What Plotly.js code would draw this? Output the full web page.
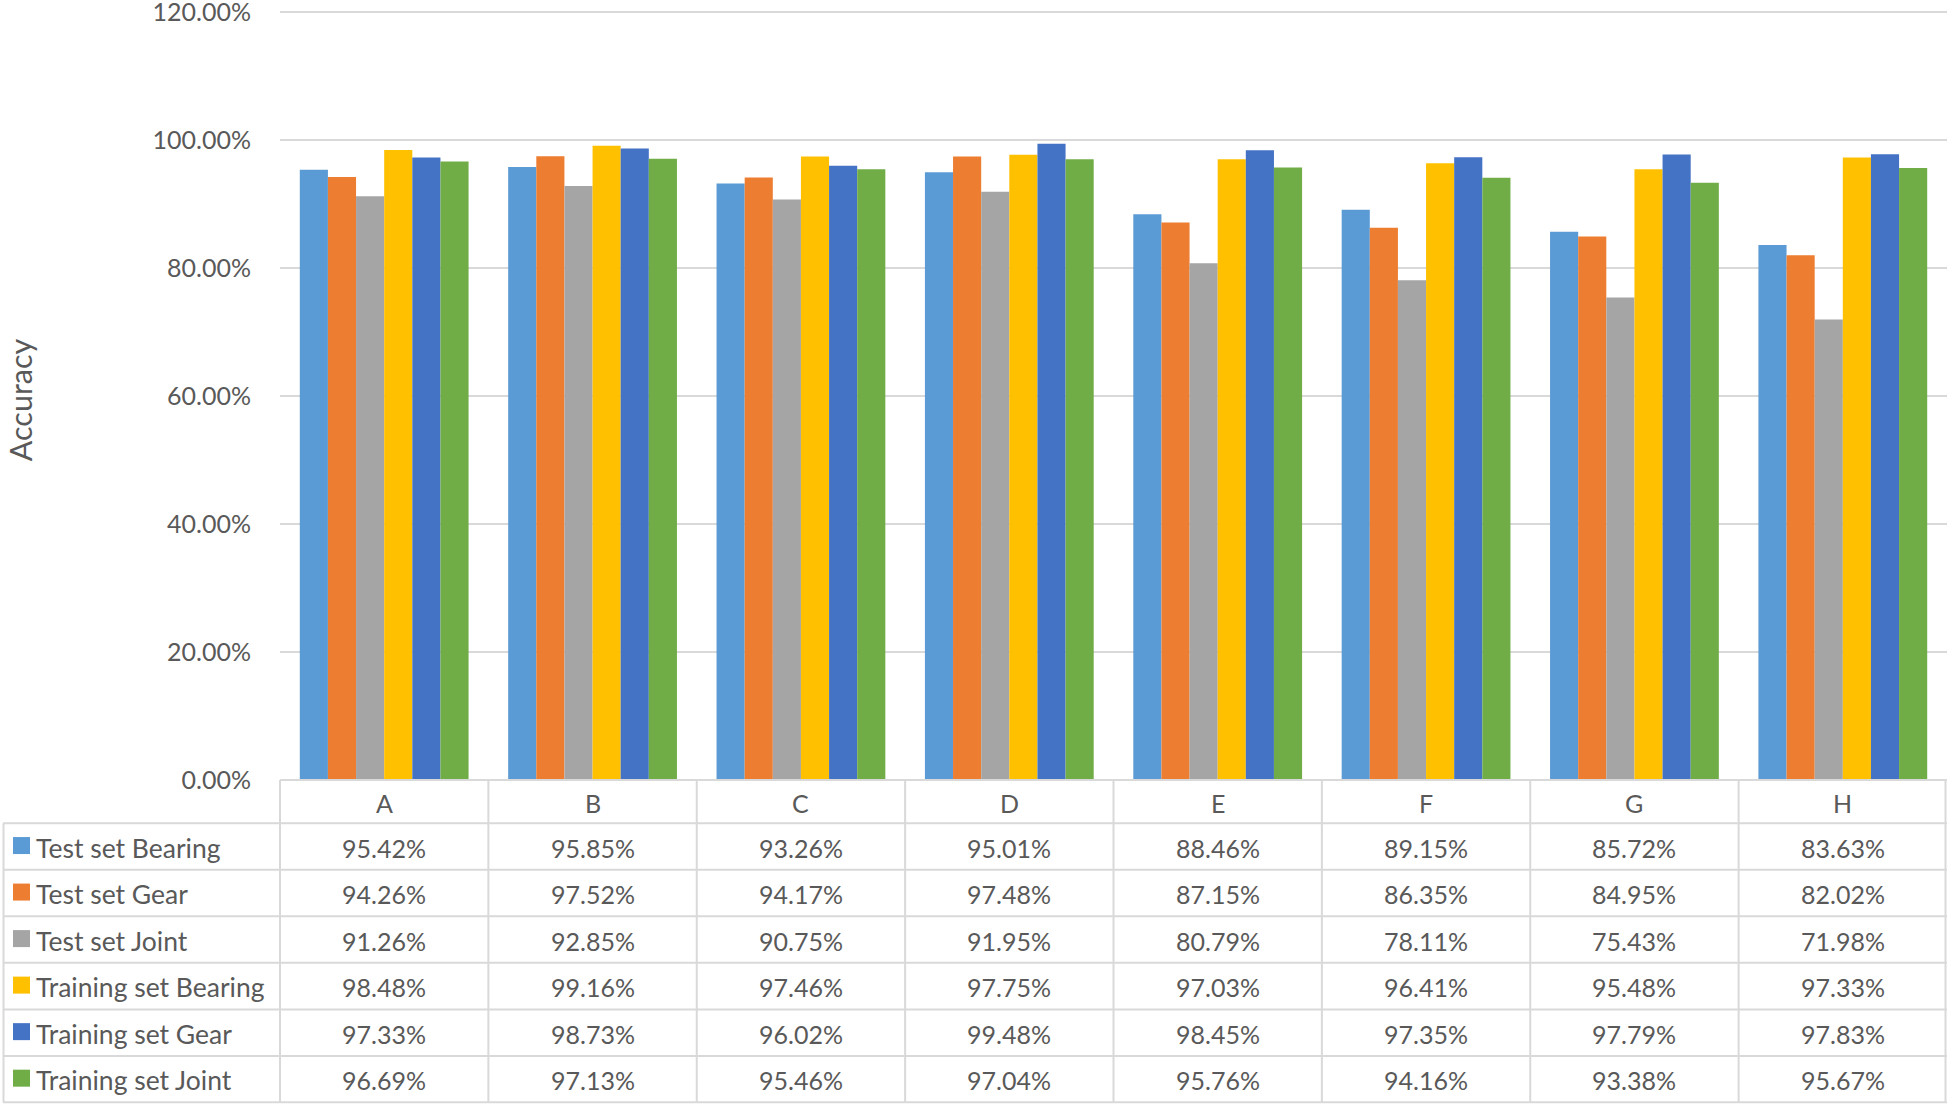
<!DOCTYPE html>
<html>
<head>
<meta charset="utf-8">
<script src="https://cdn.plot.ly/plotly-3.0.1.min.js"></script>
<style>html,body{margin:0;padding:0;background:#fff;}#chart{width:1947px;height:1104px;}</style>
</head>
<body>
<div id="chart"></div>
<script>
// ---- Data ----
var categories = ["A", "B", "C", "D", "E", "F", "G", "H"];
var seriesNames = ["Test set Bearing", "Test set Gear", "Test set Joint", "Training set Bearing", "Training set Gear", "Training set Joint"];
var testBearing = [95.42, 95.85, 93.26, 95.01, 88.46, 89.15, 85.72, 83.63];
var testGear = [94.26, 97.52, 94.17, 97.48, 87.15, 86.35, 84.95, 82.02];
var testJoint = [91.26, 92.85, 90.75, 91.95, 80.79, 78.11, 75.43, 71.98];
var trainBearing = [98.48, 99.16, 97.46, 97.75, 97.03, 96.41, 95.48, 97.33];
var trainGear = [97.33, 98.73, 96.02, 99.48, 98.45, 97.35, 97.79, 97.83];
var trainJoint = [96.69, 97.13, 95.46, 97.04, 95.76, 94.16, 93.38, 95.67];
var yTickVals = [0, 20, 40, 60, 80, 100, 120];
var yTickText = ["0.00%", "20.00%", "40.00%", "60.00%", "80.00%", "100.00%", "120.00%"];
var yTitle = "Accuracy";

// ---- Styles ----
var seriesValues = [testBearing, testGear, testJoint, trainBearing, trainGear, trainJoint];
var colors = ["#5B9BD5", "#ED7D31", "#A5A5A5", "#FFC000", "#4472C4", "#70AD47"];
var FONT = "Lato, 'Open Sans', sans-serif";
var TXT = "#595959";
var LINE = "#d9d9d9";

var W = 1947, H = 1104;
var yMax = 121;
var top120 = 12;                      // pixel row of the 120% gridline
var plotL = 280, plotR = 1947, plotB = 780;
var pxPerUnit = (plotB - top120) / 120;
var plotT = plotB - yMax * pxPerUnit;
var headerBottom = 823.3, rowH = 46.55;

function py(p) { return (plotB - p) / (plotB - plotT); }   // pixel y -> paper y
function px(p) { return (p - plotL) / (plotR - plotL); }   // pixel x -> paper x

var traces = seriesNames.map(function (name, i) {
  return {
    type: "bar",
    name: name,
    x: categories,
    y: seriesValues[i],
    marker: { color: colors[i], line: { width: 0 } },
    hoverinfo: "skip"
  };
});

var shapes = [];
var annotations = [];
var nCat = categories.length;
var nRows = seriesNames.length;

// horizontal lines
shapes.push({ type: "line", xref: "paper", yref: "paper", x0: 0, x1: 1, y0: py(plotB), y1: py(plotB), line: { color: LINE, width: 2 } });
for (var r = 0; r <= nRows; r++) {
  var yy = headerBottom + rowH * r;
  if (r === nRows) yy = H - 1.5;
  shapes.push({ type: "line", xref: "paper", yref: "paper", x0: px(3), x1: 1, y0: py(yy), y1: py(yy), line: { color: LINE, width: 2 } });
}
// vertical lines
for (var c = 0; c <= nCat; c++) {
  var xx = c / nCat;
  if (c === nCat) xx = px(W - 1.5);
  shapes.push({ type: "line", xref: "paper", yref: "paper", x0: xx, x1: xx, y0: py(plotB), y1: py(H - 1.5), line: { color: LINE, width: 2 } });
}
shapes.push({ type: "line", xref: "paper", yref: "paper", x0: px(3.5), x1: px(3.5), y0: py(headerBottom), y1: py(H - 1.5), line: { color: LINE, width: 2 } });

// header labels
categories.forEach(function (cat) {
  annotations.push({ xref: "x", yref: "paper", x: cat, y: py((plotB + headerBottom) / 2 + 1), text: cat, showarrow: false, xanchor: "center", yanchor: "middle", font: { family: FONT, size: 25, color: TXT } });
});

// rows
seriesNames.forEach(function (name, i) {
  var cy = headerBottom + rowH * (i + 0.5);
  shapes.push({ type: "rect", xref: "paper", yref: "paper", x0: px(13), x1: px(30), y0: py(cy - 9.5), y1: py(cy + 7.5), fillcolor: colors[i], line: { width: 0 } });
  annotations.push({ xref: "paper", yref: "paper", x: px(34), y: py(cy + 1), text: name, showarrow: false, xanchor: "left", yanchor: "middle", font: { family: FONT, size: 26.5, color: TXT } });
  seriesValues[i].forEach(function (v, j) {
    annotations.push({ xref: "x", yref: "paper", x: categories[j], y: py(cy + 1), text: v.toFixed(2) + "%", showarrow: false, xanchor: "center", yanchor: "middle", font: { family: FONT, size: 25, color: TXT } });
  });
});

// y-axis title (placed at the far left edge like the reference)
annotations.push({ xref: "paper", yref: "paper", x: px(0), y: py(400), text: yTitle, textangle: -90, showarrow: false, xanchor: "left", yanchor: "middle", font: { family: FONT, size: 30.5, color: TXT } });

var layout = {
  width: W,
  height: H,
  margin: { l: plotL, r: W - plotR, t: plotT, b: H - plotB, pad: 0 },
  paper_bgcolor: "#ffffff",
  plot_bgcolor: "#ffffff",
  showlegend: false,
  barmode: "group",
  bargap: 0.19,
  bargroupgap: 0,
  xaxis: {
    type: "category",
    range: [-0.5, nCat - 0.5],
    showticklabels: false,
    showgrid: false,
    zeroline: false,
    showline: false,
    ticks: ""
  },
  yaxis: {
    range: [0, yMax],
    tickmode: "array",
    tickvals: yTickVals,
    ticktext: yTickText,
    showgrid: true,
    gridcolor: LINE,
    gridwidth: 2,
    zeroline: false,
    showline: false,
    ticks: "",
    ticklabelstandoff: 28,
    ticklabeloverflow: "allow",
    tickfont: { family: FONT, size: 25, color: TXT }
  },
  shapes: shapes,
  annotations: annotations
};

Plotly.newPlot("chart", traces, layout, { staticPlot: true, displayModeBar: false });
</script>
</body>
</html>
